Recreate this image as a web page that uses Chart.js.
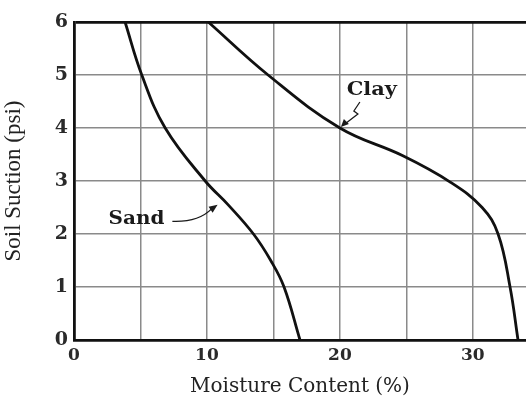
<!DOCTYPE html>
<html>
<head>
<meta charset="utf-8">
<script src="https://cdn.jsdelivr.net/npm/chart.js@4.4.0/dist/chart.umd.min.js"></script>
<style>
  body { margin: 0; background: #fff; }
  #wrap { width: 526px; height: 399px; }
</style>
</head>
<body>
<div id="wrap"><canvas id="myChart" width="526" height="399"></canvas></div>
<script>
// values
let sandX = [3.84, 5.1, 6.86, 9.87, 11.6, 13.5, 14.8, 15.8, 17.0]
let sandY = [6, 5, 4, 3, 2.55, 2, 1.5, 1, 0]
let clayX = [10.1, 14.6, 20, 24.7, 28.3, 30.7, 31.9, 32.8, 33.4]
let clayY = [6, 5, 4, 3.48, 2.98, 2.5, 2.0, 1.0, 0]
let xTickLabels = [0, 10, 20, 30]
let yTickLabels = [0, 1, 2, 3, 4, 5, 6]

let serif = '"DejaVu Serif", "Liberation Serif", serif'
let timesLike = '"Liberation Serif", serif'

function toPoints(xs, ys) {
    return xs.map(function(x, i){ return { x: x, y: ys[i] } })
}

// draws text a bit wider, the scan looks horizontally stretched
function wideText(ctx, text, x, y, k) {
    ctx.save()
    ctx.translate(x, y)
    ctx.scale(k, 1)
    ctx.fillText(text, 0, 0)
    ctx.restore()
}

// labels "Clay" and "Sand" with their little arrows
let labelPlugin = {
    id: 'curveLabels',
    afterDatasetsDraw: function(chart) {
        let ctx = chart.ctx
        let sx = chart.scales.x, sy = chart.scales.y
        ctx.save()
        ctx.fillStyle = '#1a1a1a'
        ctx.strokeStyle = '#1a1a1a'
        ctx.font = 'bold 19px ' + serif
        ctx.textAlign = 'center'
        ctx.textBaseline = 'middle'

        // Clay
        let cx = sx.getPixelForValue(22.4), cy = sy.getPixelForValue(4.72)
        wideText(ctx, 'Clay', cx, cy, 1.1)
        let ex = sx.getPixelForValue(20), ey = sy.getPixelForValue(4)
        ctx.lineWidth = 1.3
        ctx.beginPath()
        ctx.moveTo(ex + 20, ey - 26)
        ctx.lineTo(ex + 14, ey - 17)
        ctx.lineTo(ex + 18, ey - 14)
        ctx.lineTo(ex + 5, ey - 4)
        ctx.stroke()
        ctx.beginPath()
        ctx.moveTo(ex + 1, ey - 1)
        ctx.lineTo(ex + 9, ey - 4)
        ctx.lineTo(ex + 4, ey - 9)
        ctx.closePath()
        ctx.fill()

        // Sand
        let tx = sx.getPixelForValue(4.7), ty = sy.getPixelForValue(2.29)
        wideText(ctx, 'Sand', tx, ty, 1.05)
        let ax = sx.getPixelForValue(7.4), ay = sy.getPixelForValue(2.24)
        let bx = sx.getPixelForValue(10.8), by = sy.getPixelForValue(2.55)
        ctx.beginPath()
        ctx.moveTo(ax, ay)
        ctx.quadraticCurveTo(ax + 26, ay + 1, bx - 6, by + 4)
        ctx.stroke()
        ctx.beginPath()
        ctx.moveTo(bx, by)
        ctx.lineTo(bx - 9, by + 2)
        ctx.lineTo(bx - 5, by + 8)
        ctx.closePath()
        ctx.fill()
        ctx.restore()
    }
}

let myChart = new Chart(document.getElementById('myChart'), {
    type: 'scatter',
    data: {
        datasets: [{
            label: 'Sand',
            data: toPoints(sandX, sandY),
            showLine: true,
            borderColor: '#111',
            borderWidth: 2.8,
            pointRadius: 0,
            tension: 0.4
        }, {
            label: 'Clay',
            data: toPoints(clayX, clayY),
            showLine: true,
            borderColor: '#111',
            borderWidth: 2.8,
            pointRadius: 0,
            tension: 0.4
        }]
    },
    options: {
        responsive: false,
        animation: false,
        clip: false,
        layout: { padding: { top: 22, right: 0, left: 0, bottom: 0 } },
        plugins: {
            legend: { display: false },
            tooltip: { enabled: false }
        },
        scales: {
            x: {
                type: 'linear',
                min: 0,
                max: 34,
                afterBuildTicks: function(scale) {
                    scale.ticks = [0, 5, 10, 15, 20, 25, 30].map(function(v){ return { value: v } })
                },
                afterFit: function(scale) { scale.height = 59 },
                border: { color: '#111', width: 2.8 },
                grid: { color: '#8a8a8a', lineWidth: 1.5, drawTicks: false },
                ticks: {
                    padding: 5,
                    color: '#2a2a2a',
                    font: { family: serif, size: 17, weight: 'bold' },
                    callback: function(v) { return xTickLabels.indexOf(v) >= 0 ? String(v) : '' }
                },
                title: {
                    display: true,
                    text: 'Moisture Content (%)',
                    color: '#222',
                    font: { family: serif, size: 20 },
                    padding: { top: 2, bottom: 0 }
                }
            },
            y: {
                min: 0,
                max: 6,
                afterBuildTicks: function(scale) {
                    scale.ticks = yTickLabels.map(function(v){ return { value: v } })
                },
                afterFit: function(scale) { scale.width = 74 },
                border: { color: '#111', width: 2.8 },
                grid: {
                    drawTicks: false,
                    color: function(c) { return c.tick && c.tick.value === 6 ? '#111' : '#8a8a8a' },
                    lineWidth: function(c) { return c.tick && c.tick.value === 6 ? 2.8 : 1.5 }
                },
                ticks: {
                    padding: 6,
                    color: '#2a2a2a',
                    font: { family: serif, size: 19, weight: 'bold' }
                },
                title: {
                    display: true,
                    text: 'Soil Suction (psi)',
                    color: '#222',
                    font: { family: timesLike, size: 23 },
                    padding: { top: 0, bottom: 4 }
                }
            }
        }
    },
    plugins: [labelPlugin]
})
</script>
</body>
</html>
